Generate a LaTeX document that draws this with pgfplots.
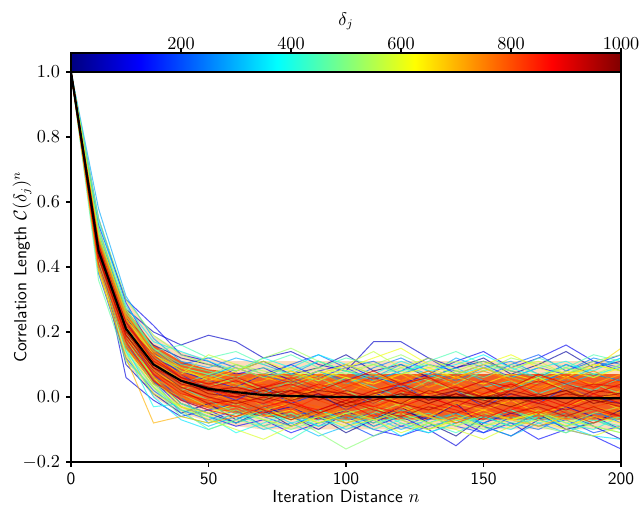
\documentclass[border=0pt]{standalone}
\usepackage{pgfplots}
\pgfplotsset{compat=1.18}
\usepgfplotslibrary{fillbetween}
\pgfplotsset{dl/.style={line width=0.6pt, opacity=0.65},
  every axis/.append style={font=\fontsize{10.5}{12.6}\selectfont}}
\newcommand{\dline}[2]{\addplot[dl, color of colormap={#1}] table[x expr=\coordindex*10, y index=0, header=false, row sep=\\]{#2};}
\newcommand{\pline}[2]{\addplot[draw=none, name path=#1] table[x expr=\coordindex*10, y index=0, header=false, row sep=\\]{#2};}
\definecolor{coreclr}{RGB}{240,72,8}
\definecolor{outerclr}{RGB}{250,140,40}
\begin{document}
\begin{tikzpicture}
\begin{axis}[
  scale only axis, width=330pt, height=234pt,
  xmin=0, xmax=200, ymin=-0.2, ymax=1.0,
  axis on top,
  tick pos=left, tick align=outside,
  major tick length=3pt,
  every tick/.style={black, line width=0.7pt},
  axis line style={line width=0.8pt},
  xtick={0,50,100,150,200},
  ytick={-0.2,0,0.2,0.4,0.6,0.8,1.0},
  xticklabel={\textsf{\pgfmathprintnumber[assume math mode=true]{\tick}}},
  yticklabel style={/pgf/number format/.cd, fixed, fixed zerofill, precision=1},
  xlabel={\textsf{Iteration Distance} $n$},
  xlabel style={inner ysep=0pt, yshift=0.5pt},
  ylabel={\textsf{Correlation Length} $\mathcal{C}(\delta_j)^n$},
  ylabel style={at={(rel axis cs:-0.089,0.5)}, anchor=center, rotate=0},
  colormap/jet,
  point meta min=0, point meta max=1000,
  colorbar horizontal,
  colorbar style={
    at={(0,1)}, anchor=south west,
    width=330pt, height=11.4pt,
    xtick={200,400,600,800,1000},
    xtick pos=upper, xticklabel pos=upper,
    xticklabel style={yshift=-4.5pt},
    xlabel={$\delta_j$},
    xlabel style={at={(rel axis cs:0.5,1)}, anchor=center, yshift=19pt},
    /pgf/number format/1000 sep={},
    tick align=outside, major tick length=3pt,
    every tick/.style={black, line width=0.7pt},
    axis line style={line width=0.8pt},
  },
]
% outer band
\pline{ou}{1.0\\0.52\\0.30\\0.19\\0.14\\0.115\\0.11\\0.11\\0.11\\0.11\\0.11\\0.11\\0.11\\0.11\\0.11\\0.11\\0.11\\0.11\\0.11\\0.11\\0.11\\}
\pline{ol}{1.0\\0.38\\0.11\\0.00\\-0.05\\-0.075\\-0.09\\-0.10\\-0.10\\-0.10\\-0.10\\-0.10\\-0.10\\-0.10\\-0.10\\-0.10\\-0.10\\-0.10\\-0.10\\-0.10\\-0.10\\}
\addplot[outerclr, fill opacity=0.3, draw=none] fill between[of=ou and ol];
% blue to yellow lines
\dline{10}{1.0\\0.42\\0.18\\0.06\\-0.02\\-0.05\\-0.08\\-0.04\\-0.09\\-0.06\\-0.11\\-0.07\\-0.03\\-0.08\\-0.12\\-0.06\\-0.09\\-0.05\\-0.10\\-0.08\\-0.04\\}
\dline{30}{1.0\\0.48\\0.24\\0.16\\0.12\\0.10\\0.08\\0.11\\0.07\\0.09\\0.13\\0.08\\0.10\\0.06\\0.09\\0.12\\0.07\\0.10\\0.14\\0.09\\0.11\\}
\dline{50}{1.0\\0.44\\0.10\\0.01\\-0.05\\-0.02\\-0.07\\-0.03\\-0.06\\-0.10\\-0.05\\-0.08\\-0.04\\-0.07\\-0.02\\-0.09\\-0.12\\-0.07\\-0.05\\-0.09\\-0.13\\}
\dline{70}{1.0\\0.50\\0.27\\0.20\\0.16\\0.19\\0.17\\0.12\\0.14\\0.10\\0.08\\0.17\\0.17\\0.12\\0.09\\0.11\\0.08\\0.06\\0.10\\0.07\\0.05\\}
\dline{90}{1.0\\0.46\\0.06\\-0.01\\-0.06\\-0.04\\-0.08\\-0.05\\-0.03\\-0.07\\-0.04\\-0.09\\-0.06\\-0.10\\-0.15\\-0.08\\-0.05\\-0.07\\-0.03\\-0.06\\-0.10\\}
\dline{110}{1.0\\0.53\\0.30\\0.22\\0.13\\0.11\\0.07\\0.09\\0.05\\0.08\\0.10\\0.06\\0.04\\0.07\\0.11\\0.14\\0.09\\0.12\\0.16\\0.11\\0.08\\}
\dline{130}{1.0\\0.41\\0.16\\0.05\\-0.03\\-0.06\\-0.09\\-0.07\\-0.11\\-0.08\\-0.06\\-0.10\\-0.12\\-0.09\\-0.07\\-0.11\\-0.08\\-0.13\\-0.10\\-0.12\\-0.16\\}
\dline{150}{1.0\\0.47\\0.22\\0.12\\0.08\\0.05\\0.03\\0.07\\0.10\\0.06\\0.09\\0.05\\0.08\\0.12\\0.07\\0.10\\0.06\\0.09\\0.07\\0.10\\0.13\\}
\dline{170}{1.0\\0.55\\0.29\\0.14\\0.07\\0.02\\-0.01\\0.03\\-0.02\\0.01\\-0.04\\0.00\\0.04\\-0.01\\0.02\\-0.03\\0.01\\-0.02\\0.03\\0.00\\-0.02\\}
\dline{190}{1.0\\0.43\\0.19\\0.07\\-0.01\\-0.04\\-0.02\\-0.06\\-0.09\\-0.05\\-0.08\\-0.12\\-0.09\\-0.06\\-0.09\\-0.11\\-0.06\\-0.09\\-0.07\\-0.11\\-0.09\\}
\dline{210}{1.0\\0.49\\0.25\\0.13\\0.10\\0.12\\0.09\\0.06\\0.10\\0.13\\0.09\\0.11\\0.07\\0.10\\0.08\\0.06\\0.10\\0.13\\0.08\\0.11\\0.09\\}
\dline{230}{1.0\\0.38\\0.12\\0.02\\-0.04\\-0.07\\-0.04\\-0.09\\-0.06\\-0.04\\-0.07\\-0.05\\-0.09\\-0.11\\-0.08\\-0.05\\-0.08\\-0.10\\-0.06\\-0.04\\-0.08\\}
\dline{250}{1.0\\0.52\\0.26\\0.15\\0.08\\0.06\\0.10\\0.07\\0.04\\0.08\\0.05\\0.09\\0.12\\0.08\\0.05\\0.09\\0.06\\0.04\\0.08\\0.12\\0.10\\}
\dline{270}{1.0\\0.44\\0.17\\0.04\\0.00\\-0.08\\-0.05\\-0.02\\-0.06\\-0.09\\-0.05\\-0.03\\-0.07\\-0.10\\-0.06\\-0.08\\-0.04\\-0.07\\-0.09\\-0.05\\-0.07\\}
\dline{290}{1.0\\0.58\\0.31\\0.18\\0.11\\0.09\\0.12\\0.10\\0.07\\0.11\\0.08\\0.06\\0.10\\0.07\\0.12\\0.09\\0.11\\0.07\\0.05\\0.09\\0.12\\}
\dline{310}{1.0\\0.45\\0.20\\0.05\\-0.05\\-0.09\\-0.06\\-0.10\\-0.08\\-0.12\\-0.09\\-0.06\\-0.10\\-0.07\\-0.05\\-0.09\\-0.12\\-0.08\\-0.11\\-0.07\\-0.10\\}
\dline{330}{1.0\\0.50\\0.23\\0.11\\0.06\\0.03\\0.06\\0.02\\0.05\\0.08\\0.04\\0.07\\0.03\\0.06\\0.09\\0.05\\0.02\\0.06\\0.04\\0.07\\0.05\\}
\dline{350}{1.0\\0.40\\0.15\\0.00\\-0.07\\-0.10\\-0.07\\-0.04\\-0.08\\-0.06\\-0.10\\-0.07\\-0.12\\-0.08\\-0.05\\-0.08\\-0.10\\-0.06\\-0.09\\-0.12\\-0.13\\}
\dline{370}{1.0\\0.54\\0.28\\0.17\\0.14\\0.11\\0.08\\0.12\\0.09\\0.13\\0.10\\0.07\\0.11\\0.08\\0.10\\0.13\\0.09\\0.06\\0.10\\0.08\\0.12\\}
\dline{380}{1.0\\0.47\\0.23\\0.12\\0.09\\0.07\\0.09\\0.06\\0.08\\0.11\\0.08\\0.05\\0.08\\0.10\\0.07\\0.09\\0.06\\0.09\\0.11\\0.07\\0.09\\}
\dline{390}{1.0\\0.42\\0.14\\-0.03\\-0.02\\-0.06\\-0.11\\-0.08\\-0.05\\-0.09\\-0.07\\-0.04\\-0.08\\-0.11\\-0.08\\-0.06\\-0.09\\-0.05\\-0.08\\-0.10\\-0.06\\}
\dline{410}{1.0\\0.47\\0.21\\0.10\\0.04\\0.07\\0.04\\0.01\\0.05\\0.02\\0.06\\0.03\\0.00\\0.04\\0.07\\0.03\\0.05\\0.01\\0.04\\0.02\\0.06\\}
\dline{420}{1.0\\0.41\\0.14\\0.03\\-0.04\\-0.06\\-0.08\\-0.05\\-0.07\\-0.04\\-0.07\\-0.10\\-0.07\\-0.05\\-0.08\\-0.06\\-0.09\\-0.06\\-0.04\\-0.07\\-0.09\\}
\dline{430}{1.0\\0.49\\0.22\\0.09\\0.03\\-0.01\\-0.05\\-0.09\\-0.13\\-0.08\\-0.06\\-0.09\\-0.05\\-0.08\\-0.11\\-0.07\\-0.04\\-0.08\\-0.06\\-0.09\\-0.11\\}
\dline{450}{1.0\\0.51\\0.27\\0.14\\0.16\\0.12\\0.14\\0.10\\0.13\\0.09\\0.12\\0.10\\0.07\\0.11\\0.14\\0.10\\0.08\\0.12\\0.09\\0.13\\0.11\\}
\dline{460}{1.0\\0.50\\0.26\\0.15\\0.10\\0.08\\0.06\\0.09\\0.07\\0.05\\0.08\\0.06\\0.09\\0.07\\0.04\\0.08\\0.10\\0.07\\0.09\\0.06\\0.10\\}
\dline{470}{1.0\\0.36\\0.11\\0.03\\-0.06\\-0.08\\-0.05\\-0.07\\-0.10\\-0.07\\-0.05\\-0.08\\-0.06\\-0.09\\-0.07\\-0.10\\-0.08\\-0.05\\-0.09\\-0.07\\-0.10\\}
\dline{490}{1.0\\0.46\\0.20\\0.08\\0.02\\0.05\\0.02\\-0.01\\0.03\\0.06\\0.02\\-0.02\\0.01\\0.05\\0.02\\-0.01\\0.03\\0.06\\0.02\\0.04\\0.01\\}
\dline{500}{1.0\\0.44\\0.18\\0.06\\-0.02\\-0.05\\-0.03\\-0.07\\-0.05\\-0.08\\-0.05\\-0.07\\-0.04\\-0.06\\-0.09\\-0.06\\-0.04\\-0.07\\-0.05\\-0.08\\-0.06\\}
\dline{510}{1.0\\0.45\\0.18\\0.04\\-0.04\\-0.10\\-0.07\\-0.09\\-0.06\\-0.11\\-0.16\\-0.12\\-0.08\\-0.10\\-0.07\\-0.09\\-0.06\\-0.09\\-0.11\\-0.08\\-0.05\\}
\dline{530}{1.0\\0.55\\0.30\\0.19\\0.13\\0.10\\0.08\\0.12\\0.15\\0.11\\0.08\\0.10\\0.13\\0.09\\0.11\\0.08\\0.12\\0.10\\0.07\\0.11\\0.13\\}
\dline{540}{1.0\\0.52\\0.27\\0.15\\0.09\\0.07\\0.10\\0.08\\0.06\\0.09\\0.07\\0.10\\0.08\\0.05\\0.08\\0.11\\0.08\\0.06\\0.09\\0.07\\0.10\\}
\dline{550}{1.0\\0.43\\0.17\\0.06\\0.01\\-0.03\\-0.06\\-0.03\\-0.07\\-0.04\\-0.08\\-0.05\\-0.02\\-0.06\\-0.09\\-0.05\\-0.07\\-0.04\\-0.08\\-0.05\\-0.03\\}
\dline{570}{1.0\\0.48\\0.24\\0.12\\0.07\\0.13\\0.10\\0.07\\0.09\\0.06\\0.10\\0.14\\0.09\\0.12\\0.08\\0.06\\0.09\\0.11\\0.07\\0.10\\0.08\\}
\dline{580}{1.0\\0.40\\0.15\\0.03\\-0.03\\-0.06\\-0.04\\-0.07\\-0.09\\-0.06\\-0.04\\-0.07\\-0.05\\-0.08\\-0.06\\-0.09\\-0.07\\-0.05\\-0.07\\-0.09\\-0.11\\}
\dline{590}{1.0\\0.39\\0.13\\0.01\\-0.03\\-0.07\\-0.10\\-0.13\\-0.09\\-0.06\\-0.09\\-0.07\\-0.11\\-0.08\\-0.10\\-0.13\\-0.09\\-0.07\\-0.10\\-0.12\\-0.09\\}
\dline{610}{1.0\\0.50\\0.25\\0.13\\0.09\\0.05\\0.08\\0.11\\0.08\\0.05\\0.09\\0.12\\0.15\\0.10\\0.07\\0.10\\0.13\\0.09\\0.06\\0.10\\0.08\\}
\dline{620}{1.0\\0.47\\0.24\\0.13\\0.08\\0.06\\0.04\\0.07\\0.05\\0.08\\0.06\\0.04\\0.07\\0.09\\0.06\\0.04\\0.07\\0.05\\0.08\\0.06\\0.09\\}
\dline{630}{1.0\\0.44\\0.19\\0.06\\-0.03\\-0.05\\-0.02\\-0.06\\-0.04\\-0.08\\-0.05\\-0.03\\-0.07\\-0.10\\-0.07\\-0.04\\-0.07\\-0.05\\-0.09\\-0.06\\-0.08\\}
% dense core band
\pline{cu}{1.0\\0.49\\0.27\\0.16\\0.11\\0.085\\0.075\\0.07\\0.07\\0.07\\0.07\\0.07\\0.07\\0.07\\0.07\\0.07\\0.07\\0.07\\0.07\\0.07\\0.07\\}
\pline{cl}{1.0\\0.41\\0.15\\0.04\\-0.01\\-0.035\\-0.05\\-0.06\\-0.065\\-0.07\\-0.07\\-0.07\\-0.07\\-0.07\\-0.07\\-0.07\\-0.07\\-0.07\\-0.07\\-0.07\\-0.07\\}
\addplot[coreclr, fill opacity=0.85, draw=none] fill between[of=cu and cl];
% orange to dark red lines
\dline{650}{1.0\\0.46\\0.22\\0.11\\0.05\\0.03\\0.06\\0.02\\-0.01\\0.03\\0.06\\0.02\\-0.02\\0.01\\0.04\\0.00\\0.03\\0.06\\0.02\\-0.01\\0.02\\}
\dline{660}{1.0\\0.45\\0.20\\0.08\\0.03\\0.06\\0.09\\0.06\\0.04\\0.07\\0.10\\0.07\\0.05\\0.08\\0.06\\0.09\\0.06\\0.04\\0.07\\0.09\\0.15\\}
\dline{670}{1.0\\0.42\\0.16\\0.04\\0.00\\-0.03\\-0.01\\-0.04\\-0.02\\-0.05\\-0.02\\0.01\\-0.03\\-0.06\\-0.02\\-0.04\\-0.01\\-0.05\\-0.03\\0.00\\-0.04\\}
\dline{690}{1.0\\0.49\\0.26\\0.14\\0.08\\0.06\\0.03\\0.05\\0.08\\0.04\\0.01\\0.05\\0.07\\0.03\\0.06\\0.09\\0.05\\0.02\\0.06\\0.04\\0.07\\}
\dline{700}{1.0\\0.39\\0.12\\-0.08\\-0.06\\-0.08\\-0.06\\-0.04\\-0.07\\-0.05\\-0.08\\-0.06\\-0.03\\-0.06\\-0.08\\-0.05\\-0.07\\-0.09\\-0.06\\-0.04\\-0.07\\}
\dline{710}{1.0\\0.44\\0.19\\0.08\\0.02\\-0.01\\0.02\\-0.03\\0.00\\0.03\\-0.01\\-0.04\\0.00\\0.02\\-0.02\\0.01\\-0.03\\0.00\\0.03\\-0.01\\0.01\\}
\dline{730}{1.0\\0.47\\0.23\\0.10\\0.06\\0.02\\-0.02\\0.01\\-0.03\\-0.06\\-0.03\\-0.01\\-0.05\\-0.02\\-0.06\\-0.03\\0.00\\-0.04\\-0.07\\-0.03\\-0.05\\}
\dline{740}{1.0\\0.48\\0.25\\0.14\\0.09\\0.06\\0.04\\0.02\\0.05\\0.07\\0.04\\0.02\\0.05\\0.03\\0.06\\0.08\\0.05\\0.03\\0.06\\0.04\\0.02\\}
\dline{750}{1.0\\0.45\\0.20\\0.12\\0.07\\0.04\\0.07\\0.04\\0.02\\0.06\\0.03\\0.07\\0.04\\0.01\\0.05\\0.02\\0.06\\0.03\\0.05\\0.08\\0.04\\}
\dline{770}{1.0\\0.40\\0.15\\0.06\\0.01\\-0.02\\-0.05\\-0.02\\-0.06\\-0.03\\-0.07\\-0.04\\-0.01\\-0.04\\-0.08\\-0.05\\-0.02\\-0.06\\-0.04\\-0.07\\-0.03\\}
\dline{780}{1.0\\0.43\\0.17\\0.05\\0.00\\-0.03\\-0.01\\-0.04\\-0.01\\-0.03\\-0.06\\-0.03\\-0.01\\-0.04\\-0.02\\0.01\\-0.02\\-0.05\\-0.02\\0.00\\-0.03\\}
\dline{790}{1.0\\0.48\\0.24\\0.11\\0.04\\0.01\\0.04\\0.07\\0.03\\0.00\\0.04\\0.01\\0.05\\0.08\\0.04\\0.01\\0.03\\0.07\\0.03\\0.00\\0.05\\}
\dline{810}{1.0\\0.43\\0.18\\0.07\\0.03\\0.00\\-0.03\\0.00\\0.03\\-0.01\\-0.04\\-0.01\\0.02\\-0.02\\0.01\\-0.03\\-0.06\\-0.02\\0.01\\-0.03\\-0.01\\}
\dline{820}{1.0\\0.46\\0.22\\0.11\\0.07\\0.04\\0.02\\0.04\\0.01\\0.03\\0.05\\0.02\\0.04\\0.06\\0.03\\0.01\\0.04\\0.02\\0.05\\0.03\\0.05\\}
\dline{830}{1.0\\0.46\\0.21\\0.09\\0.04\\0.05\\0.02\\-0.01\\-0.04\\0.00\\0.03\\0.06\\0.02\\-0.01\\0.02\\0.05\\0.01\\-0.02\\0.01\\0.04\\0.00\\}
\dline{850}{1.0\\0.44\\0.22\\0.13\\0.06\\0.02\\0.00\\0.03\\0.06\\0.03\\0.00\\-0.03\\0.00\\0.04\\0.07\\0.03\\0.00\\0.04\\0.07\\0.03\\0.06\\}
\dline{860}{1.0\\0.44\\0.18\\0.07\\0.01\\-0.01\\-0.03\\-0.05\\-0.02\\-0.04\\-0.01\\-0.03\\-0.05\\-0.02\\-0.04\\-0.07\\-0.03\\-0.05\\-0.02\\-0.04\\-0.06\\}
\dline{870}{1.0\\0.41\\0.17\\0.05\\-0.01\\-0.04\\-0.06\\-0.03\\-0.01\\-0.05\\-0.02\\-0.06\\-0.03\\0.00\\-0.03\\-0.06\\-0.04\\-0.01\\-0.05\\-0.08\\-0.05\\}
\dline{890}{1.0\\0.47\\0.20\\0.10\\0.05\\0.03\\0.00\\-0.02\\0.01\\0.04\\0.01\\-0.02\\0.02\\0.00\\-0.03\\0.01\\0.04\\0.00\\-0.03\\0.01\\-0.02\\}
\dline{900}{1.0\\0.47\\0.23\\0.12\\0.06\\0.03\\0.05\\0.02\\0.04\\0.01\\-0.01\\0.02\\0.04\\0.01\\0.03\\0.00\\0.02\\0.05\\0.02\\0.04\\0.03\\}
\dline{910}{1.0\\0.45\\0.23\\0.11\\0.06\\0.04\\0.06\\0.03\\0.05\\0.02\\0.05\\0.08\\0.04\\0.06\\0.02\\0.05\\0.03\\0.07\\0.04\\0.01\\0.04\\}
\dline{930}{1.0\\0.43\\0.19\\0.08\\0.02\\-0.02\\-0.01\\-0.04\\-0.07\\-0.04\\-0.01\\-0.04\\-0.06\\-0.03\\-0.05\\-0.02\\-0.05\\-0.03\\-0.06\\-0.03\\-0.06\\}
\dline{940}{1.0\\0.43\\0.19\\0.09\\0.03\\0.00\\-0.02\\0.00\\-0.02\\-0.05\\-0.02\\0.00\\-0.02\\-0.04\\-0.01\\-0.03\\0.00\\-0.02\\-0.04\\-0.01\\-0.03\\}
\dline{950}{1.0\\0.46\\0.21\\0.10\\0.04\\0.02\\0.03\\0.01\\0.02\\-0.01\\0.02\\0.00\\-0.02\\0.02\\0.00\\0.03\\-0.01\\0.01\\-0.02\\0.02\\0.01\\}
\dline{970}{1.0\\0.44\\0.20\\0.09\\0.05\\0.01\\0.00\\0.02\\-0.01\\0.01\\-0.02\\0.01\\0.03\\-0.01\\0.01\\-0.02\\0.02\\0.00\\0.02\\-0.01\\-0.02\\}
\dline{980}{1.0\\0.45\\0.21\\0.10\\0.05\\0.02\\0.01\\0.03\\0.00\\0.02\\0.01\\-0.01\\0.01\\0.00\\0.02\\0.00\\0.01\\-0.01\\0.01\\0.00\\0.01\\}
\dline{990}{1.0\\0.45\\0.21\\0.10\\0.05\\0.03\\0.01\\-0.01\\0.02\\0.00\\-0.03\\-0.01\\0.01\\-0.02\\0.01\\-0.01\\-0.03\\0.00\\0.02\\-0.02\\0.00\\}
% mean
\addplot[black, line width=1.3pt] table[x expr=\coordindex*10, y index=0, header=false, row sep=\\]{1.0\\0.45\\0.21\\0.10\\0.05\\0.025\\0.015\\0.006\\0.003\\0.001\\0.0\\0.0\\0.0\\-0.001\\-0.002\\-0.002\\-0.003\\-0.003\\-0.003\\-0.004\\-0.004\\};
\coordinate (bbsw) at (rel axis cs:-0.1291,-0.1154);
\coordinate (bbne) at (rel axis cs:1.0327,1.1846);
\end{axis}
\pgfresetboundingbox
\useasboundingbox (bbsw) rectangle (bbne);
\end{tikzpicture}
\end{document}
